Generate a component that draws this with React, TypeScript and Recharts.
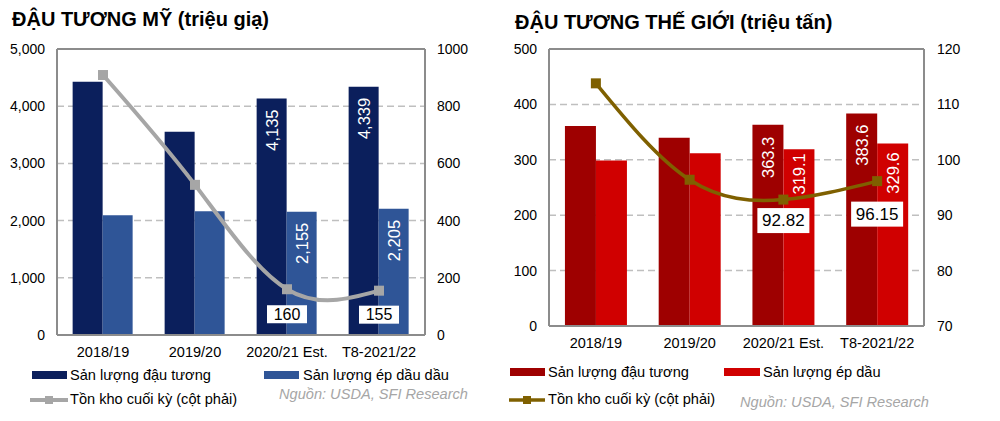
import React from "react";
import {
  ComposedChart,
  Bar,
  Line,
  XAxis,
  YAxis,
  CartesianGrid,
  LabelList,
  ReferenceLine,
} from "recharts";

// ---------- data ----------
const categories = ["2018/19", "2019/20", "2020/21 Est.", "T8-2021/22"];

// US soybeans (million bushels)
const usProduction = [4428, 3552, 4135, 4339];
const usCrush = [2092, 2165, 2155, 2205];
const usStocks = [909, 525, 160, 155];
const usLabelled = [false, false, true, true];
const usLeftTicks = [0, 1000, 2000, 3000, 4000, 5000];
const usRightTicks = [0, 200, 400, 600, 800, 1000];

// World soybeans (million tonnes)
const worldProduction = [361.0, 339.9, 363.3, 383.6];
const worldCrush = [298.8, 311.7, 319.1, 329.6];
const worldStocks = [113.8, 96.4, 92.82, 96.15];
const worldLabelled = [false, false, true, true];
const worldLeftTicks = [0, 100, 200, 300, 400, 500];
const worldRightTicks = [70, 80, 90, 100, 110, 120];

const usRows = categories.map((c, i) => ({
  cat: c,
  prod: usProduction[i],
  crush: usCrush[i],
  stock: usStocks[i],
  prodLabel: usLabelled[i] ? usProduction[i] : null,
  crushLabel: usLabelled[i] ? usCrush[i] : null,
  stockLabel: usLabelled[i] ? usStocks[i] : null,
}));

const worldRows = categories.map((c, i) => ({
  cat: c,
  prod: worldProduction[i],
  crush: worldCrush[i],
  stock: worldStocks[i],
  prodLabel: worldLabelled[i] ? worldProduction[i] : null,
  crushLabel: worldLabelled[i] ? worldCrush[i] : null,
  stockLabel: worldLabelled[i] ? worldStocks[i] : null,
}));

// ---------- style ----------
const FONT = '"Liberation Sans", Arial, Helvetica, sans-serif';
const FRAME = "#8c8c8c";
const GRID = "#bfbfbf";

const US_DARK = "#0b1f5c";
const US_LIGHT = "#2f5597";
const US_LINE = "#a6a6a6";
const W_DARK = "#9e0000";
const W_LIGHT = "#d00000";
const W_LINE = "#7f6000";

const fmtComma = (v: number) => Number(v).toLocaleString("en-US");
const fmt1 = (v: number) => Number(v).toFixed(1);
const fmt2 = (v: number) => Number(v).toFixed(2);

const makeBarLabel =
  (offsets: Record<number, number>, fontSize: number, fmt: (v: number) => string) =>
  (props: any) => {
    const { x, y, width, value, index } = props;
    if (value == null) return null;
    const cx = Number(x) + Number(width) / 2;
    const off = offsets[index] ?? 11;
    const ty = Number(y) + off;
    return (
      <text
        x={cx}
        y={ty}
        transform={`rotate(-90 ${cx} ${ty})`}
        textAnchor="end"
        dominantBaseline="central"
        fill="#ffffff"
        fontSize={fontSize}
        fontFamily={FONT}
      >
        {fmt(value)}
      </text>
    );
  };

const makeLineLabel =
  (
    offsets: Record<number, number>,
    fontSize: number,
    boxW: number,
    boxH: number,
    fmt: (v: number) => string
  ) =>
  (props: any) => {
    const { x, y, value, index } = props;
    if (value == null) return null;
    const off = offsets[index] ?? 24;
    const cx = Number(x);
    const cy = Number(y) + off;
    return (
      <g>
        <rect x={cx - boxW / 2} y={cy - boxH / 2} width={boxW} height={boxH} fill="#ffffff" />
        <text
          x={cx}
          y={cy}
          textAnchor="middle"
          dominantBaseline="central"
          fill="#000000"
          fontSize={fontSize}
          fontFamily={FONT}
        >
          {fmt(value)}
        </text>
      </g>
    );
  };

const makeSquareDot = (color: string, size: number) => (props: any) => {
  const { cx, cy, index } = props;
  if (cx == null || cy == null) return <g key={`d${index}`} />;
  return (
    <rect
      key={`d${index}`}
      x={cx - size / 2}
      y={cy - size / 2}
      width={size}
      height={size}
      fill={color}
    />
  );
};

const tickStyle = { fill: "#000000", fontSize: 14, fontFamily: FONT };
const xTickStyle = { fill: "#000000", fontSize: 14.5, fontFamily: FONT };

function UsChart() {
  return (
    <ComposedChart
      width={500}
      height={421}
      data={usRows}
      margin={{ top: 49, right: 25, left: 0, bottom: 56 }}
      barCategoryGap="17%"
      barGap={0}
    >
      <CartesianGrid
        yAxisId="left"
        vertical={false}
        stroke={GRID}
        strokeWidth={1.5}
        strokeDasharray="7 4"
      />
      <XAxis
        dataKey="cat"
        height={30}
        tickLine={false}
        tickMargin={6}
        axisLine={{ stroke: FRAME, strokeWidth: 2 }}
        tick={xTickStyle}
        interval={0}
      />
      <YAxis
        yAxisId="left"
        width={57}
        domain={[0, 5000]}
        ticks={usLeftTicks}
        tickFormatter={fmtComma}
        tickLine={false}
        tickMargin={6}
        axisLine={{ stroke: FRAME, strokeWidth: 2 }}
        tick={tickStyle}
      />
      <YAxis
        yAxisId="right"
        orientation="right"
        width={50}
        domain={[0, 1000]}
        ticks={usRightTicks}
        tickLine={false}
        tickMargin={6}
        axisLine={{ stroke: FRAME, strokeWidth: 2 }}
        tick={tickStyle}
      />
      <ReferenceLine yAxisId="left" y={5000} stroke={FRAME} strokeWidth={2} />
      <Bar yAxisId="left" dataKey="prod" fill={US_DARK} isAnimationActive={false}>
        <LabelList dataKey="prodLabel" content={makeBarLabel({ 2: 11, 3: 11 }, 16.5, fmtComma)} />
      </Bar>
      <Bar yAxisId="left" dataKey="crush" fill={US_LIGHT} isAnimationActive={false}>
        <LabelList dataKey="crushLabel" content={makeBarLabel({ 2: 11, 3: 11 }, 16.5, fmtComma)} />
      </Bar>
      <Line
        yAxisId="right"
        type="natural"
        dataKey="stock"
        stroke={US_LINE}
        strokeWidth={4}
        dot={makeSquareDot(US_LINE, 10)}
        activeDot={false}
        isAnimationActive={false}
      >
        <LabelList
          dataKey="stockLabel"
          content={makeLineLabel({ 2: 25, 3: 24 }, 16, 40, 18, (v) => String(v))}
        />
      </Line>
    </ComposedChart>
  );
}

function WorldChart() {
  return (
    <ComposedChart
      width={500}
      height={421}
      data={worldRows}
      margin={{ top: 49, right: 26, left: 0, bottom: 65 }}
      barCategoryGap="17%"
      barGap={0}
    >
      <CartesianGrid
        yAxisId="left"
        vertical={false}
        stroke={GRID}
        strokeWidth={1.5}
        strokeDasharray="7 4"
      />
      <XAxis
        dataKey="cat"
        height={30}
        tickLine={false}
        tickMargin={6}
        axisLine={{ stroke: FRAME, strokeWidth: 2 }}
        tick={xTickStyle}
        interval={0}
      />
      <YAxis
        yAxisId="left"
        width={49}
        domain={[0, 500]}
        ticks={worldLeftTicks}
        tickLine={false}
        tickMargin={6}
        axisLine={{ stroke: FRAME, strokeWidth: 2 }}
        tick={tickStyle}
      />
      <YAxis
        yAxisId="right"
        orientation="right"
        width={50}
        domain={[70, 120]}
        ticks={worldRightTicks}
        tickLine={false}
        tickMargin={7}
        axisLine={{ stroke: FRAME, strokeWidth: 2 }}
        tick={tickStyle}
      />
      <ReferenceLine yAxisId="left" y={500} stroke={FRAME} strokeWidth={2} />
      <Bar yAxisId="left" dataKey="prod" fill={W_DARK} isAnimationActive={false}>
        <LabelList dataKey="prodLabel" content={makeBarLabel({ 2: 12, 3: 11 }, 16.5, fmt1)} />
      </Bar>
      <Bar yAxisId="left" dataKey="crush" fill={W_LIGHT} isAnimationActive={false}>
        <LabelList dataKey="crushLabel" content={makeBarLabel({ 2: 4, 3: 9 }, 16.5, fmt1)} />
      </Bar>
      <Line
        yAxisId="right"
        type="natural"
        dataKey="stock"
        stroke={W_LINE}
        strokeWidth={3.5}
        dot={makeSquareDot(W_LINE, 10)}
        activeDot={false}
        isAnimationActive={false}
      >
        <LabelList
          dataKey="stockLabel"
          content={makeLineLabel({ 2: 21, 3: 33 }, 17, 52, 25, fmt2)}
        />
      </Line>
    </ComposedChart>
  );
}

function Overlay() {
  const txt = { fontFamily: FONT, fill: "#000000" } as const;
  const LF = 14.6;
  return (
    <svg
      width={1000}
      height={421}
      style={{ position: "absolute", left: 0, top: 0, pointerEvents: "none" }}
    >
      {/* titles */}
      <text x={12} y={26} fontSize={20} fontWeight="bold" {...txt}>
        ĐẬU TƯƠNG MỸ (triệu giạ)
      </text>
      <text x={515} y={29} fontSize={20} fontWeight="bold" {...txt}>
        ĐẬU TƯƠNG THẾ GIỚI (triệu tấn)
      </text>

      {/* left legend */}
      <rect x={32} y={371} width={35} height={8} fill={US_DARK} />
      <text x={70} y={380} fontSize={LF} {...txt}>Sản lượng đậu tương</text>
      <rect x={264} y={371} width={35} height={8} fill={US_LIGHT} />
      <text x={303} y={380} fontSize={LF} {...txt}>Sản lượng ép dầu dầu</text>
      <line x1={30} y1={400} x2={68} y2={400} stroke={US_LINE} strokeWidth={4} />
      <rect x={45} y={396} width={8} height={8} fill={US_LINE} />
      <text x={70} y={404} fontSize={LF} {...txt}>Tồn kho cuối kỳ (cột phải)</text>
      <text x={279} y={399} fontSize={LF} fontStyle="italic" fontFamily={FONT} fill="#a6a6a6">
        Nguồn: USDA, SFI Research
      </text>

      {/* right legend */}
      <rect x={510} y={368} width={35} height={8} fill={W_DARK} />
      <text x={548} y={377} fontSize={LF} {...txt}>Sản lượng đậu tương</text>
      <rect x={724} y={368} width={36} height={8} fill={W_LIGHT} />
      <text x={763} y={377} fontSize={LF} {...txt}>Sản lượng ép dầu</text>
      <line x1={509} y1={400} x2={545} y2={400} stroke={W_LINE} strokeWidth={3.5} />
      <rect x={523} y={396} width={8} height={8} fill={W_LINE} />
      <text x={548} y={404} fontSize={LF} {...txt}>Tồn kho cuối kỳ (cột phải)</text>
      <text x={740} y={407} fontSize={LF} fontStyle="italic" fontFamily={FONT} fill="#a6a6a6">
        Nguồn: USDA, SFI Research
      </text>
    </svg>
  );
}

export default function App() {
  return (
    <div
      style={{
        position: "absolute",
        left: 0,
        top: 0,
        width: 1000,
        height: 421,
        background: "#ffffff",
        overflow: "hidden",
      }}
    >
      <div style={{ position: "absolute", left: 0, top: 0, width: 500, height: 421 }}>
        <UsChart />
      </div>
      <div style={{ position: "absolute", left: 500, top: 0, width: 500, height: 421 }}>
        <WorldChart />
      </div>
      <Overlay />
    </div>
  );
}
